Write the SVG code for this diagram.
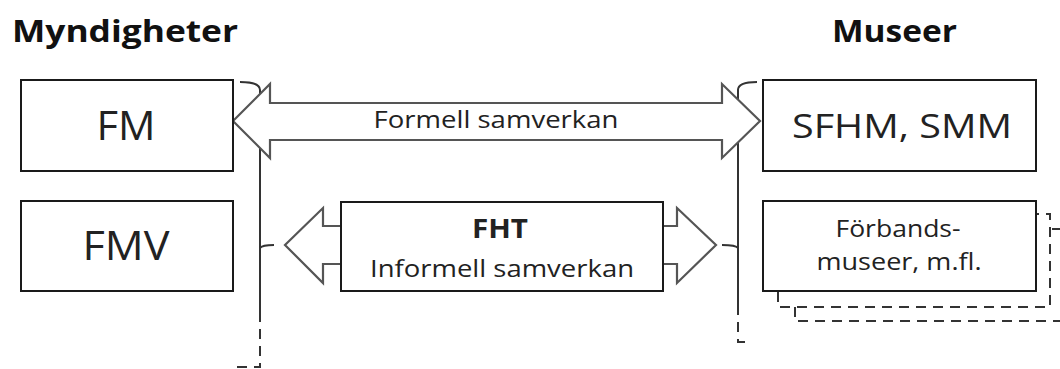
<svg xmlns="http://www.w3.org/2000/svg" width="1060" height="369" viewBox="0 0 1060 369">
<style>
.box{fill:#fff;stroke:#1a1a1a;stroke-width:2}
.arr{fill:#fff;stroke:#555;stroke-width:2.2;stroke-linejoin:miter}
.br{fill:none;stroke:#333;stroke-width:2}
.dash{fill:none;stroke:#333;stroke-width:2;stroke-dasharray:10,7}
.t{font-family:"Open Sans","Noto Sans",sans-serif;fill:#222;text-anchor:middle}
.h{font-family:"Open Sans","Noto Sans",sans-serif;font-weight:bold;fill:#111}
</style>
<rect width="1060" height="369" fill="#fff"/>
<text class="h" x="12" y="42" font-size="30" textLength="226" lengthAdjust="spacingAndGlyphs">Myndigheter</text>
<text class="h" x="832" y="42" font-size="30" textLength="125" lengthAdjust="spacingAndGlyphs">Museer</text>
<g id="connectors">
<path class="br" d="M240,82 Q260,82 260,90 L260,312"/>
<path class="dash" d="M260,312 L260,367 L237,367"/>
<path class="br" d="M260,248 Q262,245 274,245"/>
<path class="br" d="M757,82 Q738,82 738,90 L738,305"/>
<path class="dash" d="M738,305 L738,342 L752,342"/>
<path class="br" d="M738,248 Q736,245 722,245"/>
<path id="formell" class="arr" d="M233,121 L270,84 L270,103 L722,103 L722,84 L760,121 L722,158 L722,140 L270,140 L270,158 Z"/>
<text class="t" x="496" y="128" font-size="24" textLength="245" lengthAdjust="spacingAndGlyphs">Formell samverkan</text>
<path class="arr" d="M341,226 L323,226 L323,208 L285,245 L323,283 L323,264 L341,264"/>
<path class="arr" d="M663,226 L677,226 L677,208 L716,245 L677,283 L677,264 L663,264"/>
</g>
<g id="fm"><rect class="box" x="21" y="80" width="212" height="91"/><text class="t" x="126" y="140" font-size="40" textLength="59" lengthAdjust="spacingAndGlyphs">FM</text></g>
<g id="fmv"><rect class="box" x="21" y="201" width="212" height="90"/><text class="t" x="126" y="260" font-size="40" textLength="87" lengthAdjust="spacingAndGlyphs">FMV</text></g>
<g id="fht"><rect class="box" x="341" y="202" width="322" height="89"/>
<text class="t" x="500" y="238" font-size="27" font-weight="bold" textLength="56" lengthAdjust="spacingAndGlyphs">FHT</text>
<text class="t" x="502" y="277" font-size="24" textLength="264" lengthAdjust="spacingAndGlyphs">Informell samverkan</text></g>
<g id="sfhm"><rect class="box" x="763" y="80" width="273" height="91"/><text class="t" x="902" y="138" font-size="33" textLength="220" lengthAdjust="spacingAndGlyphs">SFHM, SMM</text></g>
<g id="forbands">
<path class="dash" d="M795,307 L795,321 L1062,321"/>
<path class="dash" d="M1052,229 L1062,229"/>
<path class="dash" d="M778,292 L778,307 L1050,307 L1050,214 L1036,214"/>
<rect class="box" x="763" y="201" width="273" height="90"/>
<text class="t" x="898" y="237" font-size="24" textLength="125" lengthAdjust="spacingAndGlyphs">Förbands-</text>
<text class="t" x="899" y="270" font-size="24" textLength="165" lengthAdjust="spacingAndGlyphs">museer, m.fl.</text>
</g>
</svg>
